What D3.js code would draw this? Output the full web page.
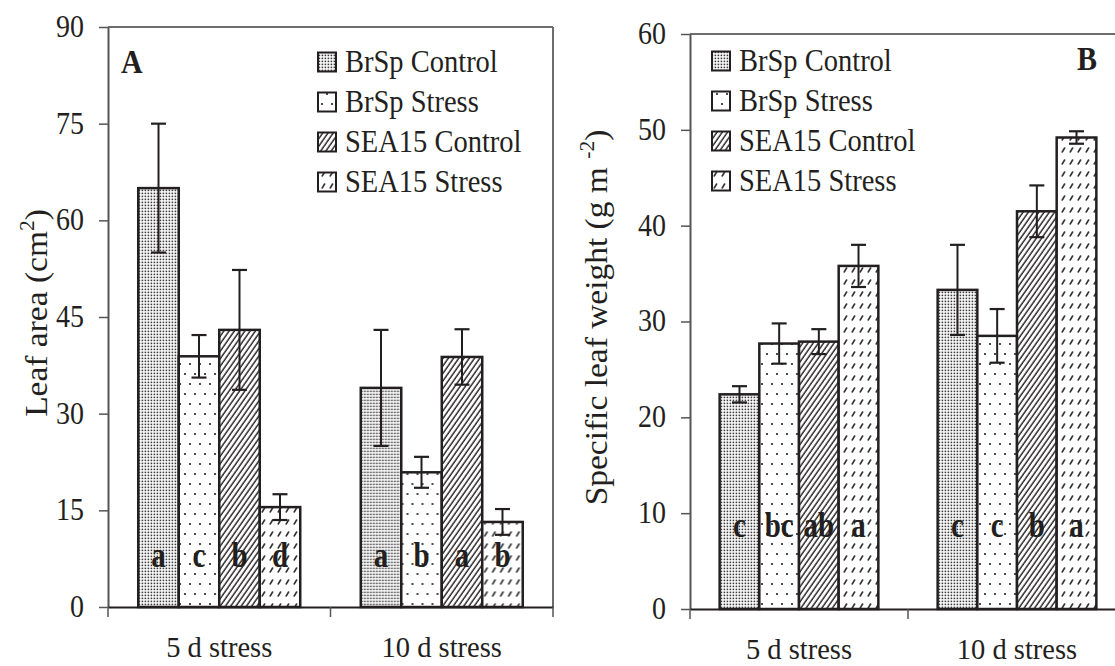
<!DOCTYPE html>
<html><head><meta charset="utf-8">
<script src="https://cdn.jsdelivr.net/npm/d3@7"></script>
<style>
body{margin:0;background:#fff;}
text{font-family:"Liberation Serif","Times New Roman",serif;fill:#231f20;}
</style></head>
<body><svg id="chart" width="1115" height="666" font-family="Liberation Serif"></svg>
<script>
// ---------- data ----------
const categories = ["5 d stress", "10 d stress"];
const series = ["BrSp Control", "BrSp Stress", "SEA15 Control", "SEA15 Stress"];

const leafAreaTicks = [0, 15, 30, 45, 60, 75, 90];
const leafArea5d = [65.0, 38.9, 43.0, 15.5];
const leafArea10d = [34.0, 20.9, 38.8, 13.2];
const leafAreaErr5d = [10.0, 3.3, 9.3, 2.0];
const leafAreaErr10d = [9.0, 2.4, 4.3, 2.0];
const leafAreaLetters5d = ["a", "c", "b", "d"];
const leafAreaLetters10d = ["a", "b", "a", "b"];

const slwTicks = [0, 10, 20, 30, 40, 50, 60];
const slw5d = [22.4, 27.7, 27.9, 35.8];
const slw10d = [33.3, 28.5, 41.5, 49.2];
const slwErr5d = [0.85, 2.1, 1.3, 2.2];
const slwErr10d = [4.7, 2.8, 2.7, 0.65];
const slwLetters5d = ["c", "bc", "ab", "a"];
const slwLetters10d = ["c", "c", "b", "a"];

// ---------- drawing ----------
const svg = d3.select("#chart");
const defs = svg.append("defs");
const ink = "#231f20";
const FONT = "Liberation Serif";

function pat(id, w, h, build, transform) {
  const p = defs.append("pattern").attr("id", id).attr("patternUnits", "userSpaceOnUse")
    .attr("width", w).attr("height", h);
  if (transform) p.attr("patternTransform", transform);
  p.append("rect").attr("width", w).attr("height", h).attr("fill", "#fff");
  build(p);
}
pat("p0", 3, 3, p => p.append("rect").attr("x", 0.6).attr("y", 0.6).attr("width", 1.6).attr("height", 1.6).attr("fill", "#3a3a3a"));
pat("p1", 10, 20, p => {
  p.append("circle").attr("cx", 2).attr("cy", 4).attr("r", 1.1).attr("fill", ink);
  p.append("circle").attr("cx", 7).attr("cy", 14).attr("r", 1.1).attr("fill", ink);
});
pat("p2", 4.3, 4.3, p => p.append("line").attr("x1", 1).attr("y1", 0).attr("x2", 1).attr("y2", 4.3)
  .attr("stroke", ink).attr("stroke-width", 1.4), "rotate(35)");
pat("p3", 8, 12, p => p.append("line").attr("x1", 2.2).attr("y1", 8).attr("x2", 4.6).attr("y2", 4)
  .attr("stroke", "#333").attr("stroke-width", 1.6).attr("stroke-linecap", "round"));
const fills = ["url(#p0)", "url(#p1)", "url(#p2)", "url(#p3)"];

function htext(parent, x, y, str, size, opts = {}) {
  const g = parent.append("g").attr("transform", `translate(${x},${y}) scale(1,${opts.stretch || 1})`);
  return g.append("text").attr("x", 0).attr("y", 0).attr("font-family", FONT)
    .attr("font-size", size).attr("font-weight", opts.bold ? "bold" : null)
    .attr("text-anchor", opts.anchor || "start").attr("fill", ink).text(str);
}

function panel(cfg) {
  const g = svg.append("g");
  const x0 = d3.scaleBand().domain(categories).range([cfg.left, cfg.left + 2 * cfg.band]).padding(0);
  const bw = x0.bandwidth();
  const x1 = d3.scaleBand().domain(series).range([bw * 0.136, bw * 0.864]).padding(0);
  const y = d3.scaleLinear().domain([0, cfg.max]).range([cfg.bottom, cfg.top]);
  const right = cfg.left + 2 * cfg.band;

  g.append("line").attr("x1", cfg.left).attr("x2", right)
    .attr("y1", cfg.top).attr("y2", cfg.top).attr("stroke", "#6d6d6d").attr("stroke-width", 2);
  g.append("line").attr("x1", right).attr("x2", right)
    .attr("y1", cfg.top).attr("y2", cfg.bottom).attr("stroke", "#6d6d6d").attr("stroke-width", 2);

  const ya = g.append("g").attr("transform", `translate(${cfg.left},0)`)
    .call(d3.axisLeft(y).tickValues(cfg.ticks).tickSize(9).tickPadding(15).tickSizeOuter(0));
  ya.attr("font-family", FONT);
  ya.select(".domain").attr("stroke", "#555").attr("stroke-width", 2);
  ya.selectAll(".tick line").attr("stroke", "#555").attr("stroke-width", 1.5);
  ya.selectAll(".tick text").attr("font-size", 28).attr("font-family", FONT).attr("fill", ink)
    .attr("transform", "scale(1,1.12)").attr("dy", "0.3em");

  const xa = g.append("g").attr("transform", `translate(0,${cfg.bottom})`)
    .call(d3.axisBottom(x0).tickSize(0).tickPadding(30).tickSizeOuter(0));
  xa.attr("font-family", FONT);
  xa.select(".domain").attr("stroke", ink).attr("stroke-width", 2);
  xa.selectAll(".tick text").attr("font-size", 28.5).attr("font-family", FONT).attr("fill", ink);
  const bounds = [cfg.left, cfg.left + cfg.band, right];
  g.selectAll(".bt").data(bounds).enter().append("line")
    .attr("x1", d => d).attr("x2", d => d).attr("y1", cfg.bottom).attr("y2", cfg.bottom + 10)
    .attr("stroke", "#555").attr("stroke-width", 1.5);

  categories.forEach((c, ci) => {
    const vals = cfg.values[ci], errs = cfg.errs[ci], lets = cfg.letters[ci];
    const gg = g.append("g").attr("transform", `translate(${x0(c)},0)`);
    series.forEach((s, si) => {
      gg.append("rect").attr("x", x1(s)).attr("y", y(vals[si]))
        .attr("width", x1.bandwidth()).attr("height", y(0) - y(vals[si]))
        .attr("fill", fills[si]).attr("stroke", ink).attr("stroke-width", 2.5);
    });
    series.forEach((s, si) => {
      const cx = x1(s) + x1.bandwidth() / 2;
      const lo = y(vals[si] - errs[si]), hi = y(vals[si] + errs[si]);
      gg.append("line").attr("x1", cx).attr("x2", cx).attr("y1", lo).attr("y2", hi).attr("stroke", ink).attr("stroke-width", 2);
      [lo, hi].forEach(yy => gg.append("line").attr("x1", cx - 7.5).attr("x2", cx + 7.5)
        .attr("y1", yy).attr("y2", yy).attr("stroke", ink).attr("stroke-width", 2.2));
      htext(gg, cx, y(0) - cfg.letterOffset, lets[si], 29, { bold: true, anchor: "middle", stretch: 1.25 });
    });
  });

  const t = g.append("text")
    .attr("transform", `translate(${cfg.titleX},${(cfg.top + cfg.bottom) / 2 - 4}) rotate(-90) scale(1.08,1)`)
    .attr("text-anchor", "middle").attr("font-size", 31).attr("font-family", FONT).attr("fill", ink);
  t.append("tspan").text(cfg.title[0]);
  t.append("tspan").attr("dy", -13).attr("font-size", 20).text(cfg.title[1]);
  t.append("tspan").attr("dy", 13).text(cfg.title[2]);

  htext(g, cfg.labelX, cfg.labelY, cfg.label, 30, { bold: true, stretch: 1.1 });

  series.forEach((s, si) => {
    const ly = cfg.legendY + si * 40;
    g.append("rect").attr("x", cfg.legendX).attr("y", ly - 9.5).attr("width", 18).attr("height", 19)
      .attr("fill", fills[si]).attr("stroke", ink).attr("stroke-width", 2);
    htext(g, cfg.legendX + 27, ly + 10, s, 28.5, { stretch: 1.08 });
  });
}

panel({
  left: 108, band: 222.5, top: 27, bottom: 607, max: 90, ticks: leafAreaTicks,
  values: [leafArea5d, leafArea10d], errs: [leafAreaErr5d, leafAreaErr10d],
  letters: [leafAreaLetters5d, leafAreaLetters10d], letterOffset: 40,
  title: ["Leaf area (cm", "2", ")"], titleX: 47,
  label: "A", labelX: 121, labelY: 73, legendX: 318, legendY: 62
});
panel({
  left: 690, band: 218, top: 34, bottom: 609, max: 60, ticks: slwTicks,
  values: [slw5d, slw10d], errs: [slwErr5d, slwErr10d],
  letters: [slwLetters5d, slwLetters10d], letterOffset: 72,
  title: ["Specific leaf weight (g m ", "-2", ")"], titleX: 607,
  label: "B", labelX: 1077, labelY: 70, legendX: 712, legendY: 61
});
</script></body></html>
